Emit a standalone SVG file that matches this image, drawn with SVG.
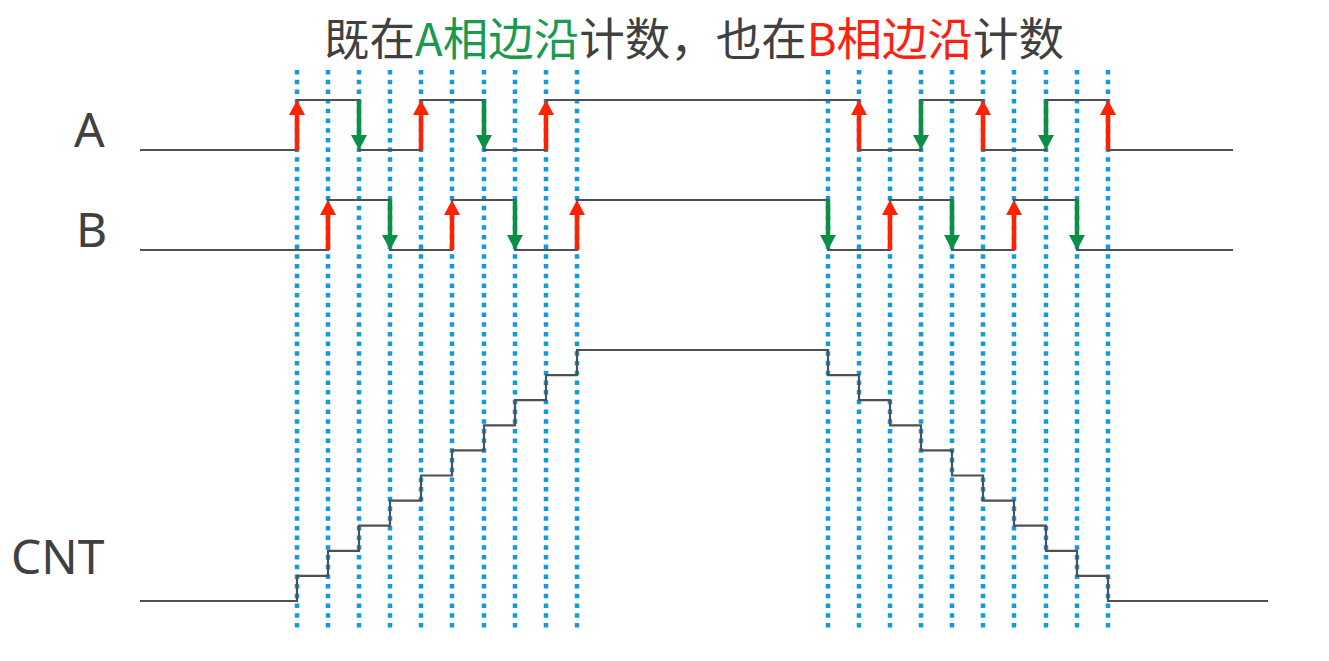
<svg xmlns="http://www.w3.org/2000/svg" width="1329" height="661" viewBox="0 0 1329 661">
<style>
.grid{stroke:#109ae2;stroke-width:4.5;stroke-dasharray:4.5 5.2;fill:none}
.wave{stroke:#505050;stroke-width:2.2;fill:none}
.lbl{font-family:"Noto Sans","Open Sans",sans-serif;font-size:48px;fill:#404040}
.title{font-family:"Noto Sans CJK SC","Noto Sans",sans-serif;font-size:45.5px;fill:#404040}
.up{stroke:#ff2200;stroke-width:4.5;fill:none;marker-end:url(#hr)}
.dn{stroke:#0b8f43;stroke-width:4.5;fill:none;marker-end:url(#hg)}
</style>
<defs>
<marker id="hr" markerUnits="userSpaceOnUse" markerWidth="16" markerHeight="16" refX="0" refY="8" orient="auto" viewBox="0 0 16 16"><path d="M0,0 L15,8 L0,16 z" fill="#ff2200"/></marker>
<marker id="hg" markerUnits="userSpaceOnUse" markerWidth="16" markerHeight="16" refX="0" refY="8" orient="auto" viewBox="0 0 16 16"><path d="M0,0 L15,8 L0,16 z" fill="#0b8f43"/></marker>
</defs>
<rect width="1329" height="661" fill="#ffffff"/>
<g id="title">
<text class="title" x="324" y="56">既在<tspan fill="#1a9a4e">A相边沿</tspan>计数，也在<tspan fill="#ff2010">B相边沿</tspan>计数</text>
</g>
<g id="gridlines">
<path class="grid" d="M297,70V631M328,70V631M359,70V631M390,70V631M421,70V631M452,70V631M484,70V631M515,70V631M546,70V631M577,70V631M828,70V631M859,70V631M890,70V631M921,70V631M952,70V631M983,70V631M1014,70V631M1046,70V631M1077,70V631M1108,70V631"/>
</g>
<g id="signal-A">
<text class="lbl" x="74" y="147">A</text>
<path class="wave" d="M140,150 H297 V100 H359 V150 H421 V100 H484 V150 H546 V100 H859 V150 H921 V100 H983 V150 H1046 V100 H1108 V150 H1233"/>
</g>
<g id="signal-B">
<text class="lbl" x="76" y="247">B</text>
<path class="wave" d="M140,250 H328 V200 H390 V250 H452 V200 H515 V250 H577 V200 H828 V250 H890 V200 H952 V250 H1014 V200 H1077 V250 H1233"/>
</g>
<g id="signal-CNT">
<text class="lbl" x="11" y="574">CNT</text>
<path class="wave" d="M140,601 H297 V575.9 H328 V550.8 H359 V525.7 H390 V500.6 H421 V475.5 H452 V450.4 H484 V425.3 H515 V400.2 H546 V375.1 H577 V350 H828 V375.1 H859 V400.2 H890 V425.3 H921 V450.4 H952 V475.5 H983 V500.6 H1014 V525.7 H1046 V550.8 H1077 V575.9 H1108 V601 H1268"/>
</g>
<g id="connectors">
<path class="up" d="M297,150V115"/>
<path class="up" d="M421,150V115"/>
<path class="up" d="M546,150V115"/>
<path class="up" d="M859,150V115"/>
<path class="up" d="M983,150V115"/>
<path class="up" d="M1108,150V115"/>
<path class="dn" d="M359,100V135"/>
<path class="dn" d="M484,100V135"/>
<path class="dn" d="M921,100V135"/>
<path class="dn" d="M1046,100V135"/>
<path class="up" d="M328,250V215"/>
<path class="up" d="M452,250V215"/>
<path class="up" d="M577,250V215"/>
<path class="up" d="M890,250V215"/>
<path class="up" d="M1014,250V215"/>
<path class="dn" d="M390,200V235"/>
<path class="dn" d="M515,200V235"/>
<path class="dn" d="M828,200V235"/>
<path class="dn" d="M952,200V235"/>
<path class="dn" d="M1077,200V235"/>
</g>
</svg>
